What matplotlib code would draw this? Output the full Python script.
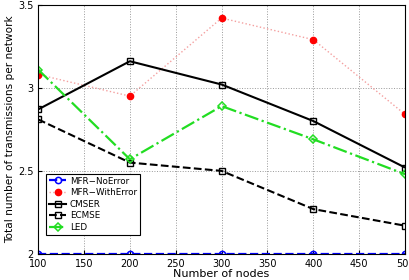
import matplotlib
matplotlib.use('Agg')
import matplotlib.pyplot as plt

nodes = [100, 200, 300, 400, 500]
mfr_noerror = [2.0, 2.0, 2.0, 2.0, 2.0]
mfr_witherror = [3.08, 2.95, 3.42, 3.29, 2.84]
cmser = [2.87, 3.16, 3.02, 2.80, 2.52]
ecmse = [2.81, 2.55, 2.50, 2.27, 2.17]
led = [3.11, 2.57, 2.89, 2.69, 2.48]

fig = plt.figure(figsize=(4.1, 2.8), dpi=100)
ax = fig.add_axes([0.093, 0.093, 0.895, 0.89])

ax.plot(nodes, mfr_noerror, '--o', color='#0000ff', mfc='none', mew=1.1, ms=4.5, lw=1.6, label='MFR\u2212NoError')
ax.plot(nodes, mfr_witherror, ':o', color='#f4a0a0', mfc='#ff0000', mec='#ff0000', ms=4.5, lw=1, label='MFR\u2212WithError')
ax.plot(nodes, cmser, '-s', color='black', mfc='none', mew=1.0, ms=4.5, lw=1.5, label='CMSER')
ax.plot(nodes, ecmse, '--s', color='black', mfc='none', mew=1.0, ms=4.5, lw=1.5, label='ECMSE')
ax.plot(nodes, led, '-.D', color='#22dd22', mfc='none', mew=1.1, ms=4.5, lw=1.6, label='LED')

ax.set_xlim(100, 500)
ax.set_ylim(2, 3.5)
ax.set_xticks(range(100, 501, 50))
ax.set_yticks([2, 2.5, 3, 3.5])
ax.set_yticklabels(['2', '2.5', '3', '3.5'])
ax.tick_params(direction='in', labelsize=7, length=3)
ax.grid(True, linestyle=':', color='#999999', lw=0.7)
ax.set_xlabel('Number of nodes', fontsize=8, labelpad=0)
ax.set_ylabel('Total number of transmissions per network', fontsize=7.6, labelpad=2)
leg = ax.legend(loc='lower left', bbox_to_anchor=(0.01, 0.06), fontsize=6.3, fancybox=False,
                edgecolor='black', framealpha=1, handlelength=2.0, handletextpad=0.4,
                borderpad=0.3, labelspacing=0.3)
leg.get_frame().set_linewidth(0.8)

fig.savefig('out.png', dpi=100)
